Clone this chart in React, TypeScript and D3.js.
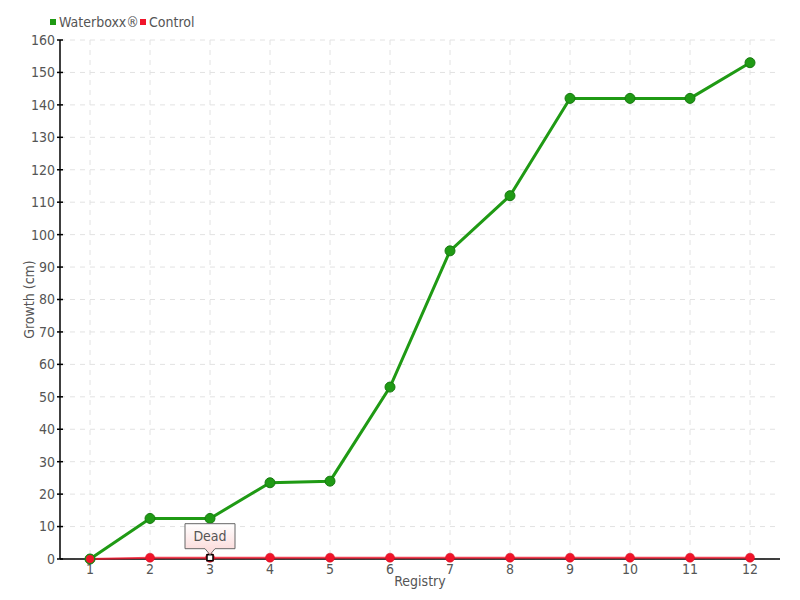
import React from "react";
import * as d3 from "d3";

const registries = ["1", "2", "3", "4", "5", "6", "7", "8", "9", "10", "11", "12"];
const waterboxx = [0, 12.5, 12.5, 23.5, 24, 53, 95, 112, 142, 142, 142, 153];
const control = [0, 0.4, 0.4, 0.4, 0.4, 0.4, 0.4, 0.4, 0.4, 0.4, 0.4, 0.4];
const yTicks = d3.range(0, 161, 10);
const seriesNames = ["Waterboxx®", "Control"];
const annotationIndex = 2;
const annotationText = "Dead";

const W = 800, H = 600;
const left = 60, right = 780, top = 40, bottom = 559;
const FONT = "'Liberation Sans Narrow', 'DejaVu Sans Condensed', sans-serif";
const GREEN = "#1f9a14";
const RED = "#f0142a";

export default function App() {
  const x = d3.scaleBand<string>().domain(registries).range([left, right]);
  const cx = (i: number) => (x(registries[i]) as number) + x.bandwidth() / 2;
  const y = d3.scaleLinear().domain([0, 160]).range([bottom, top]);
  const line = d3.line<number>().x((_, i) => cx(i)).y((d) => y(d));
  const ax = cx(annotationIndex);
  const ay = y(control[annotationIndex]);
  return (
    <svg width={W} height={H} style={{ position: "absolute", left: 0, top: 0, background: "#fff" }}>
      <defs>
        <linearGradient id="tipg" x1="0" y1="0" x2="0" y2="1">
          <stop offset="0" stopColor="#ffffff" />
          <stop offset="1" stopColor="#fbd6d6" />
        </linearGradient>
      </defs>
      {/* grid */}
      {yTicks.map((t) => (
        <line key={"h" + t} x1={left} x2={right} y1={y(t)} y2={y(t)} stroke="#e2e2e2" strokeDasharray="5,5" />
      ))}
      {registries.map((r, i) => (
        <line key={"v" + r} x1={cx(i)} x2={cx(i)} y1={top} y2={bottom} stroke="#e2e2e2" strokeDasharray="5,5" />
      ))}
      {/* axes */}
      <line x1={left} x2={left} y1={top} y2={bottom} stroke="#000" strokeWidth={1.5} />
      <line x1={left} x2={right} y1={bottom} y2={bottom} stroke="#000" strokeWidth={1.5} />
      {yTicks.map((t) => (
        <g key={"yt" + t}>
          <line x1={left - 3} x2={left + 3} y1={y(t)} y2={y(t)} stroke="#000" strokeWidth={1.5} />
          <text x={left - 5} y={y(t)} dy="0.35em" textAnchor="end" fontFamily={FONT} fontSize={14} fill="#555">
            {t}
          </text>
        </g>
      ))}
      {registries.map((r, i) => (
        <text key={"xt" + r} x={cx(i)} y={bottom + 15} textAnchor="middle" fontFamily={FONT} fontSize={14} fill="#555">
          {r}
        </text>
      ))}
      <text x={420} y={586} textAnchor="middle" fontFamily={FONT} fontSize={14} fill="#555">Registry</text>
      <text transform={`translate(34,${(top + bottom) / 2}) rotate(-90)`} textAnchor="middle" fontFamily={FONT} fontSize={14} fill="#555">
        Growth (cm)
      </text>
      {/* control series */}
      <path d={line(control) || ""} fill="none" stroke={RED} strokeWidth={2} strokeOpacity={0.8} />
      {control.map((v, i) => (
        <circle key={"c" + i} cx={cx(i)} cy={y(v)} r={4.5} fill={RED} stroke="#d0101f" strokeWidth={0.5} />
      ))}
      {/* waterboxx series */}
      <path d={line(waterboxx) || ""} fill="none" stroke={GREEN} strokeWidth={3} />
      {waterboxx.map((v, i) => (
        <circle key={"w" + i} cx={cx(i)} cy={y(v)} r={5} fill={GREEN} stroke="#177a10" strokeWidth={1} />
      ))}
      {/* control first point drawn over */}
      <circle cx={cx(0)} cy={y(control[0])} r={4} fill={RED} />
      {/* annotation */}
      <rect x={ax - 3} y={ay - 3} width={6} height={6} fill="#fff" stroke="#000" strokeWidth={1.5} />
      <g>
        <path
          d={`M${ax - 25},${ay - 34} H${ax + 25} V${ay - 9} H${ax + 5} L${ax},${ay - 3} L${ax - 5},${ay - 9} H${ax - 25} Z`}
          fill="url(#tipg)"
          stroke="#666"
          strokeWidth={1}
        />
        <text x={ax} y={ay - 17} textAnchor="middle" fontFamily={FONT} fontSize={14} fill="#555">
          {annotationText}
        </text>
      </g>
      {/* legend */}
      <rect x={50} y={19} width={6} height={6} fill={GREEN} />
      <text x={59} y={27} fontFamily={FONT} fontSize={14} fill="#555">{seriesNames[0]}</text>
      <rect x={140} y={19} width={6} height={6} fill={RED} />
      <text x={149} y={27} fontFamily={FONT} fontSize={14} fill="#555">{seriesNames[1]}</text>
    </svg>
  );
}
